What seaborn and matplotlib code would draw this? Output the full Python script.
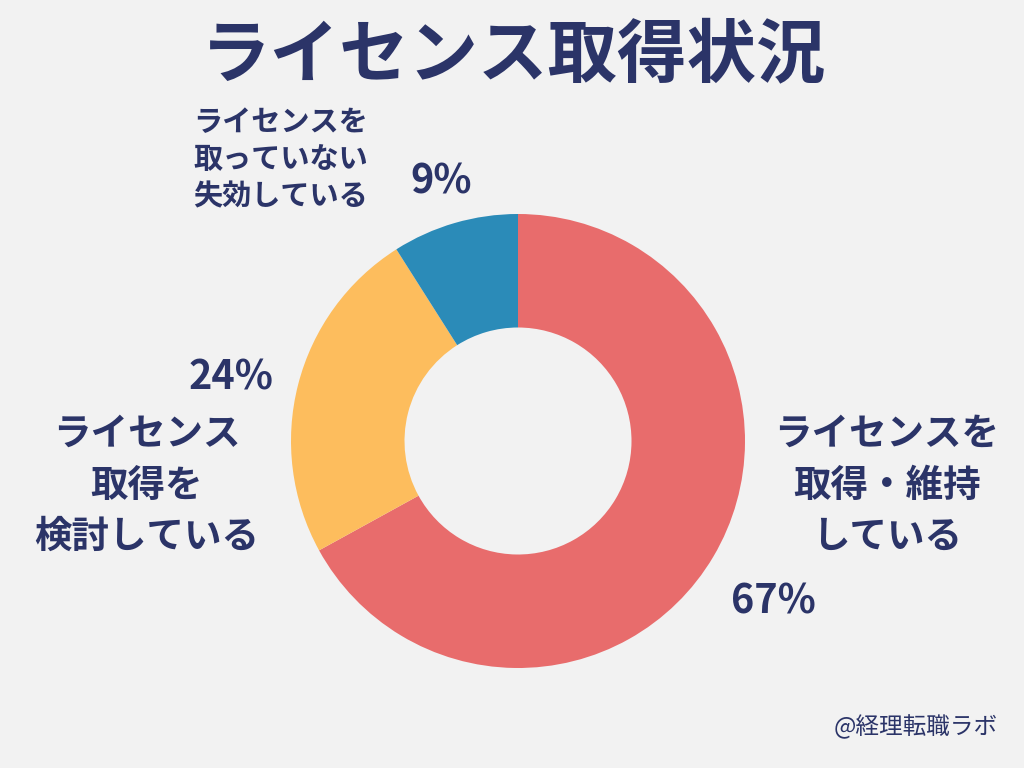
import matplotlib
matplotlib.use("Agg")
import matplotlib.pyplot as plt
import seaborn as sns

categories = ["ライセンスを\n取得・維持\nしている", "ライセンス\n取得を\n検討している", "ライセンスを\n取っていない\n失効している"]
values = [67, 24, 9]
pct_labels = ["67%", "24%", "9%"]
colors = ["#e86c6c", "#fdbd5d", "#2b8bb8"]
title = "ライセンス取得状況"
credit = "@経理転職ラボ"

sns.set_theme(style="white")
BG = "#f2f2f2"
TXT = "#2b3468"
plt.rcParams['font.family'] = ['Noto Sans CJK JP', 'DejaVu Sans']

W, H = 1024, 768
fig = plt.figure(figsize=(W / 100, H / 100), dpi=100, facecolor=BG)

cx, cy, r = 518, 441, 227
ax = fig.add_axes([(cx - r) / W, (H - cy - r) / H, 2 * r / W, 2 * r / H])
ax.set_facecolor(BG)
ax.pie(values, colors=colors, startangle=90, counterclock=False,
       radius=1.0, wedgeprops=dict(width=0.5, edgecolor="none"))
ax.set_xlim(-1, 1)
ax.set_ylim(-1, 1)
ax.set_aspect("equal")
ax.axis("off")


def ftext(x, y, s, size, weight="bold", ls=1.2):
    fig.text(x / W, 1 - y / H, s, fontsize=size, fontweight=weight, color=TXT,
             ha="center", va="center", linespacing=ls)


ftext(514, 56, title, 50)
ftext(887, 485, categories[0], 27, ls=1.4)
ftext(147, 485, categories[1], 27, ls=1.4)
ftext(281, 159, categories[2], 21, ls=1.3)
ftext(773, 602, pct_labels[0], 28.5)
ftext(231, 378, pct_labels[1], 28.5)
ftext(441, 182, pct_labels[2], 28.5)
ftext(916, 727, credit, 17, weight="normal")

fig.savefig("out.png", dpi=100, facecolor=BG)
